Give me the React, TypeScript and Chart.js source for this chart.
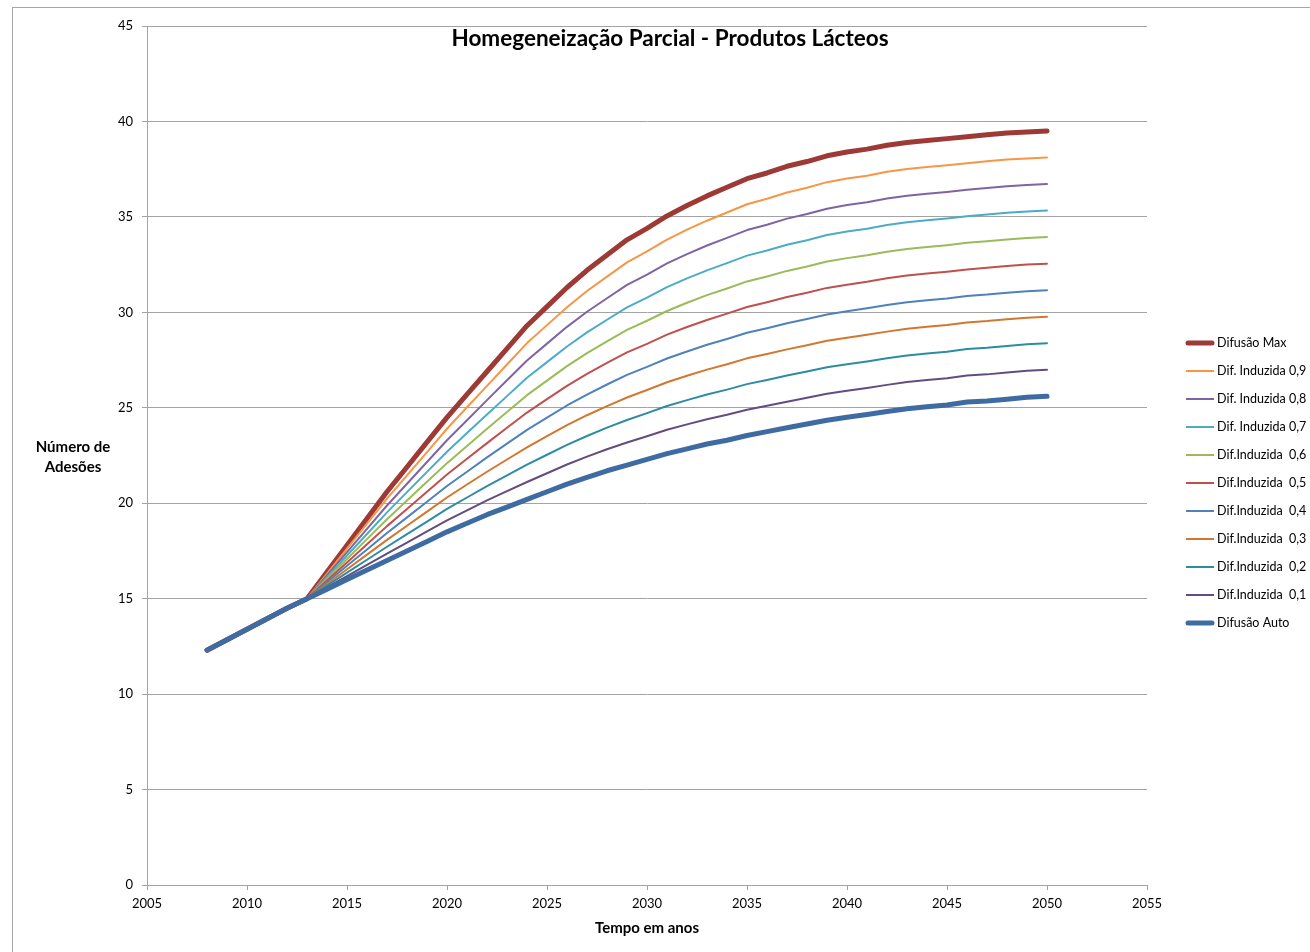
import React, { useEffect, useRef } from "react";
import { Chart, registerables } from "chart.js";

Chart.register(...registerables);

const TITLE = "Homegeneização Parcial - Produtos Lácteos";
const Y_TITLE = ["Número de", "Adesões"];
const X_TITLE = "Tempo em anos";

const years = [
  2008, 2009, 2010, 2011, 2012, 2013, 2014, 2015, 2016, 2017, 2018, 2019, 2020, 2021, 2022,
  2023, 2024, 2025, 2026, 2027, 2028, 2029, 2030, 2031, 2032, 2033, 2034, 2035, 2036, 2037,
  2038, 2039, 2040, 2041, 2042, 2043, 2044, 2045, 2046, 2047, 2048, 2049, 2050,
];

// 2008-2012: all scenarios share the same history
const sharedStart = [12.3, 12.85, 13.4, 13.95, 14.5];

const difusaoMax = [...sharedStart,
  15.0, 16.4, 17.8, 19.2, 20.6, 21.9, 23.2, 24.5, 25.7, 26.9, 28.1, 29.3, 30.3, 31.3, 32.2, 33.0,
  33.8, 34.4, 35.05, 35.6, 36.1, 36.55, 37.0, 37.3, 37.65, 37.9, 38.2, 38.4, 38.55, 38.75, 38.9,
  39.0, 39.1, 39.2, 39.3, 39.4, 39.45, 39.5];
const induzida09 = [...sharedStart,
  15.0, 16.31, 17.62, 18.93, 20.24, 21.46, 22.68, 23.9, 25.03, 26.15, 27.27, 28.39, 29.33, 30.27,
  31.12, 31.87, 32.62, 33.19, 33.81, 34.33, 34.8, 35.23, 35.66, 35.95, 36.28, 36.53, 36.82, 37.01,
  37.16, 37.36, 37.51, 37.61, 37.71, 37.81, 37.91, 38.01, 38.06, 38.11];
const induzida08 = [...sharedStart,
  15.0, 16.22, 17.44, 18.66, 19.88, 21.02, 22.16, 23.3, 24.35, 25.4, 26.44, 27.48, 28.36, 29.24,
  30.03, 30.74, 31.44, 31.98, 32.56, 33.05, 33.5, 33.9, 34.31, 34.59, 34.91, 35.15, 35.43, 35.62,
  35.77, 35.96, 36.11, 36.21, 36.31, 36.42, 36.51, 36.61, 36.67, 36.72];
const induzida07 = [...sharedStart,
  15.0, 16.13, 17.26, 18.39, 19.52, 20.58, 21.64, 22.7, 23.68, 24.65, 25.61, 26.57, 27.39, 28.21,
  28.95, 29.61, 30.26, 30.77, 31.32, 31.78, 32.2, 32.58, 32.97, 33.24, 33.54, 33.78, 34.05, 34.23,
  34.38, 34.57, 34.72, 34.82, 34.92, 35.03, 35.12, 35.22, 35.28, 35.33];
const induzida06 = [...sharedStart,
  15.0, 16.04, 17.08, 18.12, 19.16, 20.14, 21.12, 22.1, 23.0, 23.9, 24.78, 25.66, 26.42, 27.18,
  27.86, 28.48, 29.08, 29.56, 30.07, 30.5, 30.9, 31.25, 31.62, 31.88, 32.17, 32.4, 32.66, 32.84,
  32.99, 33.17, 33.32, 33.42, 33.52, 33.64, 33.72, 33.82, 33.89, 33.94];
const induzida05 = [...sharedStart,
  15.0, 15.95, 16.9, 17.85, 18.8, 19.7, 20.6, 21.5, 22.33, 23.15, 23.95, 24.75, 25.45, 26.15,
  26.78, 27.35, 27.9, 28.35, 28.83, 29.23, 29.6, 29.93, 30.28, 30.53, 30.8, 31.03, 31.28, 31.45,
  31.6, 31.78, 31.93, 32.03, 32.13, 32.25, 32.33, 32.43, 32.5, 32.55];
const induzida04 = [...sharedStart,
  15.0, 15.86, 16.72, 17.58, 18.44, 19.26, 20.08, 20.9, 21.65, 22.4, 23.12, 23.84, 24.48, 25.12,
  25.69, 26.22, 26.72, 27.14, 27.58, 27.95, 28.3, 28.6, 28.93, 29.17, 29.43, 29.65, 29.89, 30.06,
  30.21, 30.38, 30.53, 30.63, 30.73, 30.86, 30.93, 31.03, 31.11, 31.16];
const induzida03 = [...sharedStart,
  15.0, 15.77, 16.54, 17.31, 18.08, 18.82, 19.56, 20.3, 20.98, 21.65, 22.29, 22.93, 23.51, 24.09,
  24.61, 25.09, 25.54, 25.93, 26.34, 26.68, 27.0, 27.28, 27.59, 27.82, 28.06, 28.28, 28.51, 28.67,
  28.82, 28.99, 29.14, 29.24, 29.34, 29.47, 29.54, 29.64, 29.72, 29.77];
const induzida02 = [...sharedStart,
  15.0, 15.68, 16.36, 17.04, 17.72, 18.38, 19.04, 19.7, 20.3, 20.9, 21.46, 22.02, 22.54, 23.06,
  23.52, 23.96, 24.36, 24.72, 25.09, 25.4, 25.7, 25.95, 26.24, 26.46, 26.69, 26.9, 27.12, 27.28,
  27.43, 27.59, 27.74, 27.84, 27.94, 28.08, 28.14, 28.24, 28.33, 28.38];
const induzida01 = [...sharedStart,
  15.0, 15.59, 16.18, 16.77, 17.36, 17.94, 18.52, 19.1, 19.63, 20.15, 20.63, 21.11, 21.57, 22.03,
  22.44, 22.83, 23.18, 23.51, 23.85, 24.13, 24.4, 24.63, 24.9, 25.11, 25.32, 25.53, 25.74, 25.89,
  26.04, 26.2, 26.35, 26.45, 26.55, 26.69, 26.75, 26.85, 26.94, 26.99];
const difusaoAuto = [...sharedStart,
  15.0, 15.5, 16.0, 16.5, 17.0, 17.5, 18.0, 18.5, 18.95, 19.4, 19.8, 20.2, 20.6, 21.0, 21.35,
  21.7, 22.0, 22.3, 22.6, 22.85, 23.1, 23.3, 23.55, 23.75, 23.95, 24.15, 24.35, 24.5, 24.65, 24.8,
  24.95, 25.05, 25.15, 25.3, 25.35, 25.45, 25.55, 25.6];

const seriesNames = [
  "Difusão Max",
  "Dif. Induzida 0,9",
  "Dif. Induzida 0,8",
  "Dif. Induzida 0,7",
  "Dif.Induzida  0,6",
  "Dif.Induzida  0,5",
  "Dif.Induzida  0,4",
  "Dif.Induzida  0,3",
  "Dif.Induzida  0,2",
  "Dif.Induzida  0,1",
  "Difusão Auto",
];
const seriesValues = [
  difusaoMax, induzida09, induzida08, induzida07, induzida06, induzida05,
  induzida04, induzida03, induzida02, induzida01, difusaoAuto,
];
const seriesColors = [
  "#9E3A36", "#F79646", "#8064A2", "#4BACC6", "#9BBB59", "#C0504D",
  "#4F81BD", "#D2772F", "#2E8CA2", "#634C80", "#3E6BA2",
];
const seriesWidths = [5, 2, 2, 2, 2, 2, 2, 2, 2, 2, 5];

const yTicks = [0, 5, 10, 15, 20, 25, 30, 35, 40, 45];
const xTicks = [2005, 2010, 2015, 2020, 2025, 2030, 2035, 2040, 2045, 2050, 2055];

const FONT = "Lato, 'Open Sans', sans-serif";
const GRID = "#a3a3a3";

const textPlugin = {
  id: "texts",
  afterDraw(chart: any) {
    const ctx = chart.ctx;
    const area = chart.chartArea;
    ctx.save();
    ctx.fillStyle = "#000";
    ctx.textAlign = "center";
    ctx.textBaseline = "middle";
    ctx.font = `bold 22.5px ${FONT}`;
    ctx.fillText(TITLE, 670, 39);
    ctx.font = `bold 15px ${FONT}`;
    ctx.fillText(Y_TITLE[0], 73, 447);
    ctx.fillText(Y_TITLE[1], 73, 467);
    ctx.fillText(X_TITLE, (area.left + area.right) / 2, 928);

    // legend
    ctx.textAlign = "left";
    ctx.font = `12.5px ${FONT}`;
    chart.data.datasets.forEach((ds: any, i: number) => {
      const y = 343 + i * 28;
      ctx.beginPath();
      ctx.strokeStyle = ds.borderColor;
      ctx.lineWidth = ds.borderWidth;
      ctx.lineCap = ds.borderWidth > 3 ? "round" : "butt";
      ctx.moveTo(ds.borderWidth > 3 ? 1188 : 1186, y);
      ctx.lineTo(ds.borderWidth > 3 ? 1212 : 1214, y);
      ctx.stroke();
      ctx.fillStyle = "#000";
      ctx.fillText(ds.label, 1217, y);
    });
    ctx.restore();
  },
};

export default function App() {
  const ref = useRef<HTMLCanvasElement | null>(null);

  useEffect(() => {
    if (!ref.current) return;
    const datasets = seriesNames.map((name, i) => ({
      label: name,
      data: years.map((yr, j) => ({ x: yr, y: seriesValues[i][j] })),
      borderColor: seriesColors[i],
      backgroundColor: seriesColors[i],
      borderWidth: seriesWidths[i],
      pointRadius: 0,
      tension: 0,
      fill: false,
      borderCapStyle: "round" as const,
      borderJoinStyle: "round" as const,
      order: seriesNames.length - 1 - i,
    }));

    const chart = new Chart(ref.current, {
      type: "line",
      data: { datasets },
      options: {
        animation: false,
        responsive: false,
        devicePixelRatio: 1,
        layout: { padding: { left: 0, right: 163, top: 26, bottom: 37 } },
        plugins: {
          legend: { display: false },
          title: { display: false },
          tooltip: { enabled: false },
        },
        scales: {
          x: {
            type: "linear",
            min: 2005,
            max: 2055,
            afterBuildTicks: (scale: any) => {
              scale.ticks = xTicks.map((v) => ({ value: v }));
            },
            afterFit: (scale: any) => {
              scale.height = 30;
            },
            ticks: {
              color: "#000",
              font: { family: FONT, size: 13 },
              padding: 6,
              maxRotation: 0,
              callback: (v: any) => String(v),
            },
            grid: {
              display: true,
              drawOnChartArea: false,
              drawTicks: true,
              tickLength: 5,
              color: GRID,
            },
            border: { display: true, color: GRID, width: 1 },
          },
          y: {
            type: "linear",
            min: 0,
            max: 45,
            afterBuildTicks: (scale: any) => {
              scale.ticks = yTicks.map((v) => ({ value: v }));
            },
            afterFit: (scale: any) => {
              scale.width = 147;
            },
            ticks: {
              color: "#000",
              font: { family: FONT, size: 13 },
              padding: 9,
            },
            grid: {
              display: true,
              drawTicks: true,
              tickLength: 5,
              color: GRID,
              lineWidth: 1,
            },
            border: { display: true, color: GRID, width: 1 },
          },
        },
      },
      plugins: [textPlugin],
    });
    return () => chart.destroy();
  }, []);

  return (
    <div
      style={{
        position: "fixed",
        left: 0,
        top: 0,
        width: 1310,
        height: 952,
        overflow: "hidden",
        background: "#fff",
      }}
    >
      <div
        style={{
          position: "absolute",
          left: 12,
          top: 7,
          width: 1320,
          height: 980,
          border: "1px solid #a6a6a6",
        }}
      />
      <canvas
        ref={ref}
        width={1310}
        height={952}
        style={{ position: "absolute", left: 0, top: 0, display: "block" }}
      />
    </div>
  );
}
